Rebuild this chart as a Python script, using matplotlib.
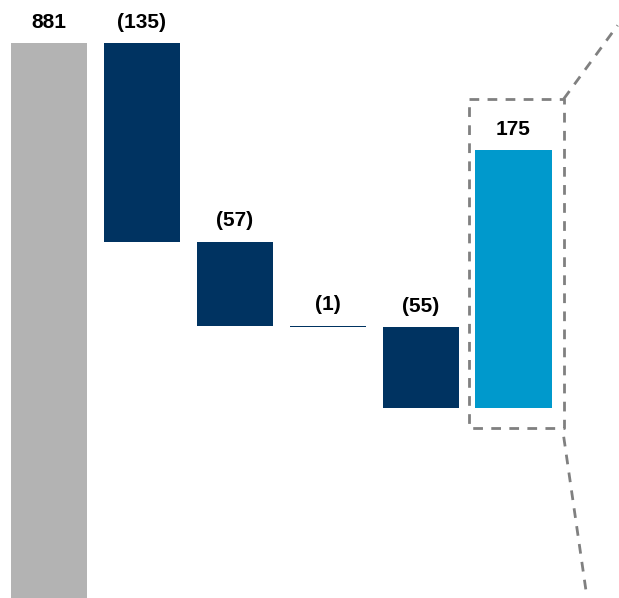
import matplotlib
matplotlib.use('Agg')
import matplotlib.pyplot as plt
import numpy as np

# waterfall values
labels = ['881', '(135)', '(57)', '(1)', '(55)', '175']
changes = [881, -135, -57, -1, -55, 175]
kinds = ['total', 'down', 'down', 'down', 'down', 'up']
colors = {'total': '#B3B3B3', 'down': '#003361', 'up': '#0099CC'}

plt.rcParams['font.family'] = ['Liberation Sans', 'DejaVu Sans']

fig = plt.figure(figsize=(6.19, 5.98), dpi=100)
ax = fig.add_axes([0, 0, 1, 1])

x = np.arange(len(changes))
bottoms = []
tops = []
level = 0
for c, k in zip(changes, kinds):
    if k == 'total':
        bottoms.append(0)
        level = c
        tops.append(c)
    elif c < 0:
        bottoms.append(level + c)
        tops.append(level)
        level += c
    else:
        bottoms.append(level)
        tops.append(level + c)
        level += c

for i in range(len(changes)):
    ax.bar(x[i], tops[i] - bottoms[i], bottom=bottoms[i], width=0.82,
           color=colors[kinds[i]], linewidth=0)
    ax.annotate(labels[i], (x[i], tops[i]), xytext=(0, 15),
                textcoords='offset points', ha='center', va='center',
                fontsize=15, fontweight='bold', color='black')

# dashed callout box around the last bar
i = len(changes) - 1
bx0, bx1 = x[i] - 0.48, x[i] + 0.54
by0, by1 = bottoms[i] - 13.5, tops[i] + 35
dash = dict(color='#808080', linestyle=(0, (3.5, 3)), linewidth=2)
ax.plot([bx0, bx1, bx1, bx0, bx0], [by1, by1, by0, by0, by1], **dash)
ax.plot([bx1, bx1 + 0.58], [by1, by1 + 50], **dash)
ax.plot([bx1, bx1 + 0.25], [by0 - 6, by0 - 115], **dash)

ax.set_xlim(-0.527, 6.135)
ax.set_ylim(504, 910.2)
ax.axis('off')

fig.savefig('out.png', dpi=100)
